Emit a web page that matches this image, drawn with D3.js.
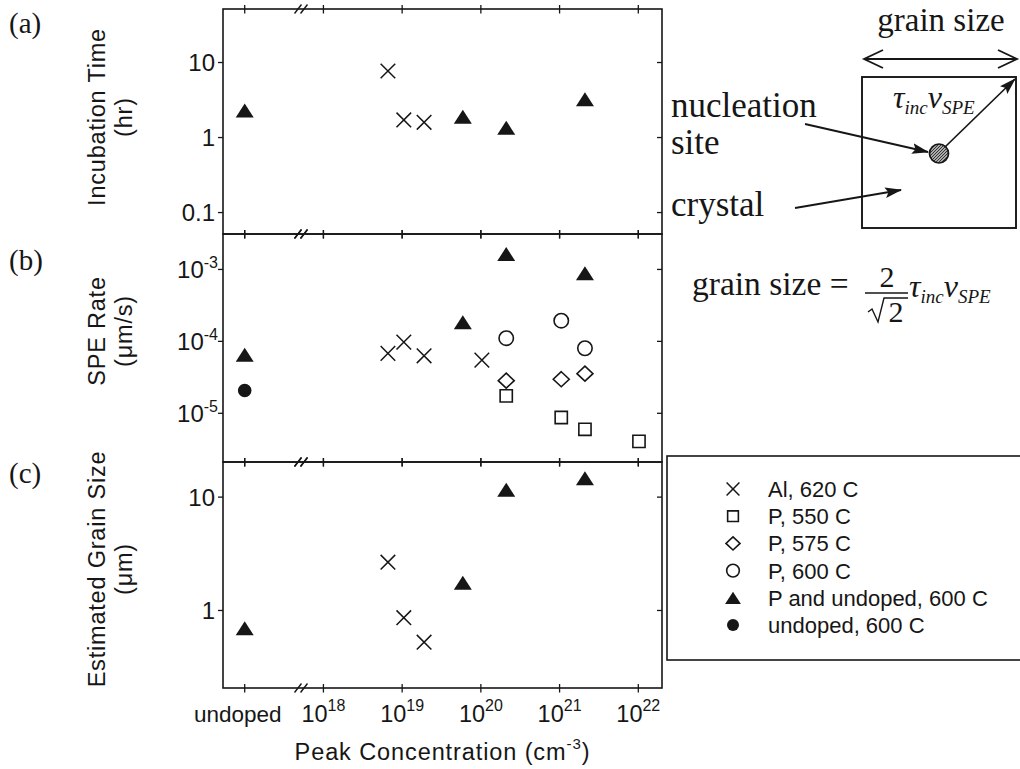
<!DOCTYPE html>
<html>
<head>
<meta charset="utf-8">
<script src="https://cdn.jsdelivr.net/npm/d3@7"></script>
<style>
  body { margin: 0; background: #fff; }
  svg { display: block; }
</style>
</head>
<body>
<script>
// ---------- data ----------
// concentration axis (the "undoped" column sits at the 1e17 position)
const concTickValues = [1e17, 1e18, 1e19, 1e20, 1e21, 1e22];
const concTickExponents = [null, "18", "19", "20", "21", "22"];
const undopedLabel = "undoped";

// y ticks
const incubationTicks = [0.1, 1, 10];
const incubationTickLabels = ["0.1", "1", "10"];
const speTicks = [1e-5, 1e-4, 1e-3];
const speTickExponents = ["-5", "-4", "-3"];
const grainTicks = [1, 10];
const grainTickLabels = ["1", "10"];

// legend
const seriesNames = ["Al, 620 C", "P, 550 C", "P, 575 C", "P, 600 C", "P and undoped, 600 C", "undoped, 600 C"];
const seriesSymbols = ["cross", "square", "diamond", "circle", "triangle", "dot"];

// (a) incubation time (hr)
const alConcA = [6.6e18, 1.05e19, 1.9e19];
const alIncubation = [7.6, 1.69, 1.57];
const pUndConcA = [1e17, 5.9e19, 2.1e20, 2.1e21];
const pUndIncubation = [2.25, 1.87, 1.33, 3.2];

// (b) SPE rate (um/s)
const alConcB = [6.6e18, 1.05e19, 1.9e19, 1.03e20];
const alRate = [6.7e-5, 9.6e-5, 6.2e-5, 5.4e-5];
const p550Conc = [2.1e20, 1.05e21, 2.1e21, 1.02e22];
const p550Rate = [1.72e-5, 8.6e-6, 5.9e-6, 4.0e-6];
const p575Conc = [2.1e20, 1.05e21, 2.1e21];
const p575Rate = [2.8e-5, 2.93e-5, 3.5e-5];
const p600Conc = [2.1e20, 1.05e21, 2.1e21];
const p600Rate = [1.09e-4, 1.91e-4, 7.9e-5];
const pUndConcB = [1e17, 5.9e19, 2.1e20, 2.1e21];
const pUndRate = [6.4e-5, 1.82e-4, 1.61e-3, 8.7e-4];
const undConcB = [1e17];
const undRate = [2.04e-5];

// (c) estimated grain size (um)
const alConcC = [6.6e18, 1.05e19, 1.9e19];
const alGrain = [2.64, 0.855, 0.52];
const pUndConcC = [1e17, 5.9e19, 2.1e20, 2.1e21];
const pUndGrain = [0.69, 1.74, 11.5, 14.5];

// ---------- layout ----------
const W = 1020, H = 769;
const left = 223, right = 662;
const ink = "#161616";
const sans = "'Liberation Sans', Arial, Helvetica, sans-serif";
const serif = "'Liberation Serif', 'Times New Roman', serif";

const svg = d3.select("body").append("svg")
  .attr("width", W).attr("height", H)
  .attr("viewBox", `0 0 ${W} ${H}`);

const x = d3.scaleLog().domain([5.3e16, 2.0e22]).range([left, right]);

const panels = [
  { top: 9,   bottom: 234, y: d3.scaleLog().domain([0.051, 50.9]).range([234, 9]),
    ticks: incubationTicks, labels: incubationTickLabels, sup: null,
    title: ["Incubation Time", "(hr)"], titleY: 117, letter: "(a)", letterY: 33,
    series: [
      { s: 0, conc: alConcA, val: alIncubation },
      { s: 4, conc: pUndConcA, val: pUndIncubation }
    ] },
  { top: 234, bottom: 462, y: d3.scaleLog().domain([2.07e-6, 3.06e-3]).range([462, 234]),
    ticks: speTicks, labels: null, sup: speTickExponents,
    title: ["SPE Rate", "(\u03bcm/s)"], titleY: 331, letter: "(b)", letterY: 270,
    series: [
      { s: 0, conc: alConcB, val: alRate },
      { s: 1, conc: p550Conc, val: p550Rate },
      { s: 2, conc: p575Conc, val: p575Rate },
      { s: 3, conc: p600Conc, val: p600Rate },
      { s: 4, conc: pUndConcB, val: pUndRate },
      { s: 5, conc: undConcB, val: undRate }
    ] },
  { top: 462, bottom: 688, y: d3.scaleLog().domain([0.205, 20.2]).range([688, 462]),
    ticks: grainTicks, labels: grainTickLabels, sup: null,
    title: ["Estimated Grain Size", "(\u03bcm)"], titleY: 569, letter: "(c)", letterY: 483,
    series: [
      { s: 0, conc: alConcC, val: alGrain },
      { s: 4, conc: pUndConcC, val: pUndGrain }
    ] }
];

// marker shapes, centred on 0,0
function symbolPath(type, k) {
  const p = d3.path();
  if (type === "cross") {
    const h = 7.3 * k;
    p.moveTo(-h, -h); p.lineTo(h, h); p.moveTo(-h, h); p.lineTo(h, -h);
  } else if (type === "square") {
    const h = 6.1 * k;
    p.rect(-h, -h, 2 * h, 2 * h);
  } else if (type === "diamond") {
    const w = 8 * k, h = 7.5 * k;
    p.moveTo(0, -h); p.lineTo(w, 0); p.lineTo(0, h); p.lineTo(-w, 0); p.closePath();
  } else if (type === "circle") {
    const r = 7.2 * k;
    p.moveTo(r, 0); p.arc(0, 0, r, 0, 2 * Math.PI);
  } else if (type === "triangle") {
    const w = 9 * k, h = 7 * k;
    p.moveTo(0, -h); p.lineTo(w, h); p.lineTo(-w, h); p.closePath();
  } else if (type === "dot") {
    const r = 6.8 * k;
    p.moveTo(r, 0); p.arc(0, 0, r, 0, 2 * Math.PI);
  }
  return p.toString();
}
function styleSymbol(sel, type) {
  const filled = type === "triangle" || type === "dot";
  sel.attr("fill", filled ? ink : "none")
     .attr("stroke", filled ? "none" : ink)
     .attr("stroke-width", type === "cross" ? 1.5 : 1.6);
}

// axis-break slashes on a horizontal frame line
function breakMark(g, yy) {
  [298, 304].forEach(bx => {
    g.append("line")
      .attr("x1", bx - 3.5).attr("y1", yy + 4.5)
      .attr("x2", bx + 3.5).attr("y2", yy - 4.5)
      .attr("stroke", ink).attr("stroke-width", 1.4);
  });
}

panels.forEach((P, i) => {
  const g = svg.append("g");

  // frame
  g.append("rect")
    .attr("x", left).attr("y", P.top)
    .attr("width", right - left).attr("height", P.bottom - P.top)
    .attr("fill", "none").attr("stroke", ink).attr("stroke-width", 1.6);

  // concentration ticks crossing the top and bottom lines
  [P.top, P.bottom].forEach(yy => {
    g.selectAll(null).data(concTickValues).enter().append("line")
      .attr("x1", d => x(d)).attr("x2", d => x(d))
      .attr("y1", yy - 4).attr("y2", yy + 4.5)
      .attr("stroke", ink).attr("stroke-width", 1.3);
    breakMark(g, yy);
  });

  // left axis: outward ticks with labels
  const axisL = d3.axisLeft(P.y).tickValues(P.ticks).tickSize(5).tickPadding(3)
    .tickFormat((d, j) => P.labels ? P.labels[j] : "");
  const ga = g.append("g").attr("transform", `translate(${left},0)`).call(axisL);
  ga.select(".domain").remove();
  ga.selectAll(".tick line").attr("stroke", ink).attr("stroke-width", 1.3);
  ga.selectAll(".tick text")
    .attr("fill", ink).attr("font-family", sans).attr("font-size", 24)
    .attr("dy", "0.36em");
  if (P.sup) {
    ga.selectAll(".tick text").each(function (d, j) {
      const t = d3.select(this);
      t.append("tspan").text("10");
      t.append("tspan").attr("font-size", 16).attr("dy", -10).text(P.sup[j]);
    });
    ga.selectAll(".tick text").attr("text-anchor", "end").attr("x", -5);
  }

  // right axis: inward ticks
  const axisR = d3.axisLeft(P.y).tickValues(P.ticks).tickSize(5).tickFormat("");
  const gr = g.append("g").attr("transform", `translate(${right},0)`).call(axisR);
  gr.select(".domain").remove();
  gr.selectAll(".tick line").attr("stroke", ink).attr("stroke-width", 1.3);

  // y titles (two rotated lines)
  g.append("text")
    .attr("transform", `translate(105,${P.titleY}) rotate(-90)`)
    .attr("text-anchor", "middle").attr("font-family", sans).attr("font-size", 23.5)
    .attr("letter-spacing", 0.8).attr("fill", ink).text(P.title[0]);
  g.append("text")
    .attr("transform", `translate(132,${P.titleY}) rotate(-90)`)
    .attr("text-anchor", "middle").attr("font-family", sans).attr("font-size", 23.5)
    .attr("letter-spacing", 0.8).attr("fill", ink).text(P.title[1]);

  // panel letter
  g.append("text").attr("x", 9).attr("y", P.letterY)
    .attr("font-family", serif).attr("font-size", 29).attr("fill", ink).text(P.letter);

  // data marks
  P.series.forEach(S => {
    const type = seriesSymbols[S.s];
    const pts = S.conc.map((c, j) => [c, S.val[j]]);
    g.selectAll(null).data(pts).enter().append("path")
      .attr("transform", d => `translate(${x(d[0])},${P.y(d[1])})`)
      .attr("d", symbolPath(type, 1))
      .call(styleSymbol, type);
  });
});

// x tick labels under the bottom panel
const xl = svg.append("g").attr("font-family", sans).attr("fill", ink);
concTickValues.forEach((v, j) => {
  if (concTickExponents[j] === null) {
    xl.append("text").attr("x", x(v) - 7).attr("y", 722)
      .attr("text-anchor", "middle").attr("font-size", 22.5).text(undopedLabel);
  } else {
    const t = xl.append("text").attr("x", x(v)).attr("y", 722)
      .attr("text-anchor", "middle").attr("font-size", 23.5);
    t.append("tspan").text("10");
    t.append("tspan").attr("font-size", 16).attr("dy", -11).text(concTickExponents[j]);
  }
});

// x title
const xt = svg.append("text").attr("x", (left + right) / 2).attr("y", 760)
  .attr("text-anchor", "middle").attr("font-family", sans).attr("font-size", 23.5)
  .attr("letter-spacing", 0.9).attr("fill", ink);
xt.append("tspan").text("Peak Concentration (cm");
xt.append("tspan").attr("font-size", 15).attr("dy", -11).text("-3");
xt.append("tspan").attr("dy", 11).text(")");

// legend
const lg = svg.append("g");
lg.append("rect").attr("x", 667).attr("y", 456).attr("width", 380).attr("height", 204)
  .attr("fill", "#fff").attr("stroke", ink).attr("stroke-width", 1.6);
seriesNames.forEach((name, j) => {
  const cy = 489 + j * 27.2;
  lg.append("path").attr("transform", `translate(733,${cy})`)
    .attr("d", symbolPath(seriesSymbols[j], 0.88))
    .call(styleSymbol, seriesSymbols[j]);
  lg.append("text").attr("x", 768).attr("y", cy + 8)
    .attr("font-family", sans).attr("font-size", 22).attr("fill", ink).text(name);
});

// ---------- grain-growth sketch ----------
const defs = svg.append("defs");
defs.append("marker").attr("id", "head")
  .attr("viewBox", "0 0 16 10").attr("refX", 15).attr("refY", 5)
  .attr("markerWidth", 17).attr("markerHeight", 11)
  .attr("markerUnits", "userSpaceOnUse").attr("orient", "auto")
  .append("path").attr("d", "M0,0L16,5L0,10L3,5Z").attr("fill", ink);
const hatch = defs.append("pattern").attr("id", "hatch")
  .attr("width", 3).attr("height", 3).attr("patternUnits", "userSpaceOnUse");
hatch.append("rect").attr("width", 3).attr("height", 3).attr("fill", "#aaa");
hatch.append("path").attr("d", "M0,3L3,0").attr("stroke", "#333").attr("stroke-width", 1);

const sk = svg.append("g").attr("fill", ink);
// crystal square
sk.append("rect").attr("x", 862).attr("y", 77).attr("width", 154).attr("height", 151)
  .attr("fill", "none").attr("stroke", ink).attr("stroke-width", 1.9);
// double arrow for grain size
sk.append("path")
  .attr("d", "M864,59L1017,59M883,50L864,59L883,68M998,50L1017,59L998,68")
  .attr("fill", "none").attr("stroke", ink).attr("stroke-width", 1.8);
sk.append("text").attr("x", 941).attr("y", 31).attr("text-anchor", "middle")
  .attr("font-family", serif).attr("font-size", 33).text("grain size");
// growth radius arrow
sk.append("line").attr("x1", 945).attr("y1", 147).attr("x2", 1015).attr("y2", 79)
  .attr("stroke", ink).attr("stroke-width", 1.7).attr("marker-end", "url(#head)");
// nucleation site
sk.append("circle").attr("cx", 939).attr("cy", 153.5).attr("r", 9.5)
  .attr("fill", "url(#hatch)").attr("stroke", ink).attr("stroke-width", 1.7);
// pointer arrows
sk.append("line").attr("x1", 805).attr("y1", 124).attr("x2", 928).attr("y2", 152)
  .attr("stroke", ink).attr("stroke-width", 1.8).attr("marker-end", "url(#head)");
sk.append("line").attr("x1", 795).attr("y1", 208).attr("x2", 901).attr("y2", 190)
  .attr("stroke", ink).attr("stroke-width", 1.8).attr("marker-end", "url(#head)");
// labels
sk.append("text").attr("x", 671).attr("y", 117).attr("font-family", serif).attr("font-size", 35).text("nucleation");
sk.append("text").attr("x", 671).attr("y", 154).attr("font-family", serif).attr("font-size", 35).text("site");
sk.append("text").attr("x", 671).attr("y", 216).attr("font-family", serif).attr("font-size", 35).text("crystal");
const tv = sk.append("text").attr("x", 893).attr("y", 108)
  .attr("font-family", serif).attr("font-style", "italic").attr("font-size", 32);
tv.append("tspan").text("\u03c4");
tv.append("tspan").attr("font-size", 19).attr("dy", 6).text("inc");
tv.append("tspan").attr("dy", -6).text("v");
tv.append("tspan").attr("font-size", 19).attr("dy", 6).text("SPE");

// formula
const fm = svg.append("g").attr("fill", ink).attr("font-family", serif);
fm.append("text").attr("x", 692).attr("y", 295).attr("font-size", 33.5).text("grain size =");
fm.append("text").attr("x", 887).attr("y", 287).attr("text-anchor", "middle")
  .attr("font-size", 30).text("2");
fm.append("line").attr("x1", 865).attr("x2", 908).attr("y1", 293).attr("y2", 293)
  .attr("stroke", ink).attr("stroke-width", 1.5);
fm.append("path").attr("d", "M868,312L872,309L878,322L884,298L908,298")
  .attr("fill", "none").attr("stroke", ink).attr("stroke-width", 1.4);
fm.append("text").attr("x", 896).attr("y", 322).attr("text-anchor", "middle")
  .attr("font-size", 30).text("2");
const fv = fm.append("text").attr("x", 909).attr("y", 297)
  .attr("font-style", "italic").attr("font-size", 32);
fv.append("tspan").text("\u03c4");
fv.append("tspan").attr("font-size", 19).attr("dy", 6).text("inc");
fv.append("tspan").attr("dy", -6).text("v");
fv.append("tspan").attr("font-size", 19).attr("dy", 6).text("SPE");
</script>
</body>
</html>
